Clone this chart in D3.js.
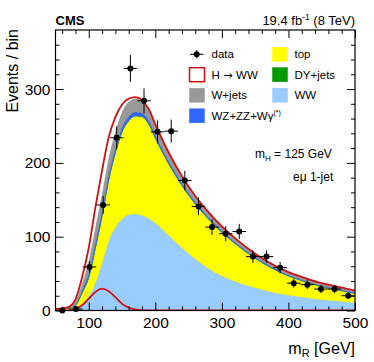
<!DOCTYPE html>
<head>
    <meta charset="utf-8">
    <title>mR e-mu 1-jet</title>
    <script src="https://cdnjs.cloudflare.com/ajax/libs/d3/7.8.5/d3.min.js"></script>
    <style>
        body { margin: 0; background: #fff; }
        svg text { font-family: "Liberation Sans", Arial, Helvetica, sans-serif; fill: #000; }
    </style>
</head>
<body>
    <div id="chart"></div>
    <script type="text/javascript">
        const width = 374;
        const height = 362;
        const marginLeft = 55.5;
        const marginTop = 30;
        const marginRight = 19;
        const marginBottom = 51.5;

        // observed data, 22 bins between 50 and 500 GeV
        const binCenters = [60.2, 80.7, 101.1, 121.6, 142.0, 162.5, 183.0, 203.4, 223.9, 244.3, 264.8,
                            285.2, 305.7, 326.1, 346.6, 367.0, 387.5, 408.0, 428.4, 448.9, 469.3, 489.8];
        const dataCounts = [0, 2, 59, 143, 234, 328, 284, 242, 243, 176, 141,
                            113, 104, 107, 73, 73, 58, 37, 35, 29, 29, 20];
        const dataErrors = [0, 1.4, 7.7, 12, 15.3, 18.1, 16.9, 15.6, 15.6, 13.3, 11.9,
                            10.6, 10.2, 10.3, 8.5, 8.5, 7.6, 6.1, 5.9, 5.4, 5.4, 4.5];
        const binHalfWidth = 10.2;

        // expected yields
        const massGrid   = [50, 60, 70, 80, 90, 100, 110, 120, 130, 140, 150, 160, 170, 180, 190, 200,
                            220, 240, 260, 280, 300, 325, 350, 375, 400, 425, 450, 475, 500];
        const wwYield    = [0.2, 0.5, 1, 3, 9, 20, 38, 65, 95, 113, 124, 130, 131, 129, 125, 119,
                            102, 85, 70, 57, 47, 38, 31, 25, 21, 18, 15, 13, 11];
        const topYield   = [1.5, 2, 2.2, 4, 15, 25, 47, 63.5, 82, 101, 118, 127, 132.5, 133.5, 127.8, 114.7,
                            96.9, 84.4, 74.4, 66.9, 58.9, 49, 39.8, 32.4, 25.8, 21.1, 17.4, 14.7, 12];
        const dyYield    = [0, 0, 0.1, 0.2, 0.3, 0.5, 0.5, 0.5, 0.5, 0.5, 0.5, 0.5, 0.5, 0.4, 0.4, 0.4,
                            0.3, 0.3, 0.2, 0.2, 0.2, 0.1, 0.1, 0.1, 0.1, 0.1, 0.1, 0.1, 0.1];
        const vvYield    = [0.1, 0.1, 0.3, 1.3, 3.2, 5.5, 6.5, 7, 7, 6.5, 6, 5.5, 5, 4.6, 4.2, 3.8,
                            3.3, 2.8, 2.4, 2.1, 1.9, 1.7, 1.5, 1.4, 1.3, 1.2, 1.1, 1.0, 0.9];
        const wjetsYield = [0.2, 0.4, 1.1, 4.5, 10.5, 18, 23, 24.5, 24.5, 23, 21.5, 20, 18.5, 17, 15.5, 14,
                            11.5, 9.5, 8, 6.8, 6, 5.2, 4.6, 4.1, 3.8, 3.6, 3.4, 3.2, 3];
        const higgsYield = [0, 0, 0.3, 2, 7, 16, 25, 29.5, 26, 18, 9, 4, 1.5, 0.5, 0.2, 0.1,
                            0, 0, 0, 0, 0, 0, 0, 0, 0, 0, 0, 0, 0];

        const xTicks = [100, 200, 300, 400, 500];
        const yTicks = [0, 100, 200, 300];

        const svg = d3.select("#chart")
            .append("svg")
            .attr("width", width)
            .attr("height", height);

        const xScale = d3.scaleLinear()
            .domain([50, 500])
            .range([marginLeft, width - marginRight]);
        const yScale = d3.scaleLinear()
            .domain([0, 380])
            .range([height - marginBottom, marginTop]);

        svg.append("clipPath").attr("id", "plotclip")
            .append("rect")
            .attr("x", marginLeft).attr("y", marginTop)
            .attr("width", width - marginLeft - marginRight)
            .attr("height", height - marginTop - marginBottom);

        // stacked expectation
        const keys = ["ww", "top", "dy", "vv", "wjets", "higgs"];
        const fills = {ww: "#99ccff", top: "#ffff00", dy: "#009900", vv: "#3366ff", wjets: "#999999", higgs: "#ffffff"};
        const edges = {ww: "#99ccff", top: "#eeee00", dy: "#009900", vv: "#3366ff", wjets: "#888888", higgs: "#ffffff"};
        const rows = massGrid.map((m, i) => ({
            m: m, ww: wwYield[i], top: topYield[i], dy: dyYield[i],
            vv: vvYield[i], wjets: wjetsYield[i], higgs: higgsYield[i]
        }));
        const stacked = d3.stack().keys(keys)(rows);

        const area = d3.area()
            .x(d => xScale(d.data.m))
            .y0(d => yScale(d[0]))
            .y1(d => yScale(d[1]))
            .curve(d3.curveMonotoneX);

        const plot = svg.append("g").attr("clip-path", "url(#plotclip)");
        plot.selectAll("path.layer")
            .data(stacked)
            .enter()
            .append("path")
            .attr("class", "layer")
            .attr("d", area)
            .attr("fill", d => fills[d.key])
            .attr("stroke", d => edges[d.key])
            .attr("stroke-width", 0.6);

        // red outline on top of the stack (signal + background)
        const topLine = d3.line()
            .x(d => xScale(d.data.m))
            .y(d => yScale(d[1]))
            .curve(d3.curveMonotoneX);
        plot.append("path")
            .attr("d", topLine(stacked[stacked.length - 1]))
            .attr("fill", "none")
            .attr("stroke", "#d01010")
            .attr("stroke-width", 1.8);

        // signal alone
        const sigLine = d3.line()
            .x((d, i) => xScale(massGrid[i]))
            .y(d => yScale(d))
            .curve(d3.curveMonotoneX);
        plot.append("path")
            .attr("d", sigLine(higgsYield))
            .attr("fill", "none")
            .attr("stroke", "#d01010")
            .attr("stroke-width", 1.8);

        // data points
        const pts = binCenters.map((m, i) => ({m: m, n: dataCounts[i], e: dataErrors[i]}));
        const dataG = svg.append("g").attr("class", "data");
        dataG.selectAll("line.ex")
            .data(pts.filter(d => d.n > 0))
            .enter().append("line")
            .attr("x1", d => xScale(d.m - binHalfWidth))
            .attr("x2", d => xScale(d.m + binHalfWidth))
            .attr("y1", d => yScale(d.n))
            .attr("y2", d => yScale(d.n))
            .attr("stroke", "#000").attr("stroke-width", 1);
        dataG.selectAll("line.ey")
            .data(pts.filter(d => d.n > 0))
            .enter().append("line")
            .attr("x1", d => xScale(d.m))
            .attr("x2", d => xScale(d.m))
            .attr("y1", d => yScale(d.n - d.e))
            .attr("y2", d => yScale(d.n + d.e))
            .attr("stroke", "#000").attr("stroke-width", 1);
        dataG.selectAll("circle")
            .data(pts)
            .enter().append("circle")
            .attr("cx", d => xScale(d.m))
            .attr("cy", d => yScale(d.n))
            .attr("r", 3)
            .attr("fill", "#000");

        // axes, ticks pointing inwards on all four sides
        const xMinor = d3.range(60, 500, 20).filter(v => v % 100 !== 0);
        const yMinor = d3.range(20, 380, 20).filter(v => v % 100 !== 0);
        const bottom = height - marginBottom;
        const right = width - marginRight;

        function styleAxis(g) {
            g.select(".domain").remove();
            g.selectAll("line").attr("stroke", "#000");
            g.selectAll("text").attr("font-size", 15.5).attr("fill", "#000")
                .attr("font-family", "Liberation Sans, Arial, sans-serif");
        }

        svg.append("g").attr("transform", "translate(0," + bottom + ")")
            .call(d3.axisBottom(xScale).tickValues(xTicks).tickSizeInner(-8).tickSizeOuter(0).tickPadding(6))
            .call(styleAxis);
        svg.append("g").attr("transform", "translate(0," + bottom + ")")
            .call(d3.axisBottom(xScale).tickValues(xMinor).tickSize(-4).tickFormat(""))
            .call(styleAxis);
        svg.append("g").attr("transform", "translate(0," + marginTop + ")")
            .call(d3.axisTop(xScale).tickValues(xTicks).tickSize(-8).tickFormat(""))
            .call(styleAxis);
        svg.append("g").attr("transform", "translate(0," + marginTop + ")")
            .call(d3.axisTop(xScale).tickValues(xMinor).tickSize(-4).tickFormat(""))
            .call(styleAxis);

        svg.append("g").attr("transform", "translate(" + marginLeft + ",0)")
            .call(d3.axisLeft(yScale).tickValues(yTicks).tickSizeInner(-8).tickSizeOuter(0).tickPadding(5))
            .call(styleAxis);
        svg.append("g").attr("transform", "translate(" + marginLeft + ",0)")
            .call(d3.axisLeft(yScale).tickValues(yMinor).tickSize(-4).tickFormat(""))
            .call(styleAxis);
        svg.append("g").attr("transform", "translate(" + right + ",0)")
            .call(d3.axisRight(yScale).tickValues(yTicks).tickSize(-8).tickFormat(""))
            .call(styleAxis);
        svg.append("g").attr("transform", "translate(" + right + ",0)")
            .call(d3.axisRight(yScale).tickValues(yMinor).tickSize(-4).tickFormat(""))
            .call(styleAxis);

        svg.append("rect")
            .attr("x", marginLeft).attr("y", marginTop)
            .attr("width", right - marginLeft)
            .attr("height", bottom - marginTop)
            .attr("fill", "none")
            .attr("stroke", "#000")
            .attr("stroke-width", 1.2);

        // axis titles
        const xTitle = svg.append("text")
            .attr("x", right).attr("y", 353.5)
            .attr("text-anchor", "end")
            .attr("font-size", 16);
        xTitle.append("tspan").text("m");
        xTitle.append("tspan").attr("dy", 3.5).attr("font-size", 11).text("R");
        xTitle.append("tspan").attr("dy", -3.5).text(" [GeV]");

        svg.append("text")
            .attr("transform", "rotate(-90)")
            .attr("x", -29).attr("y", 17.5)
            .attr("text-anchor", "end")
            .attr("font-size", 16)
            .text("Events / bin");

        // header
        svg.append("text")
            .attr("x", marginLeft).attr("y", 25)
            .attr("font-size", 13).attr("font-weight", "bold")
            .text("CMS");
        const lumi = svg.append("text")
            .attr("x", right).attr("y", 25)
            .attr("text-anchor", "end")
            .attr("font-size", 13);
        lumi.append("tspan").text("19.4 fb");
        lumi.append("tspan").attr("dy", -5).attr("font-size", 8.5).text("-1");
        lumi.append("tspan").attr("dy", 5).text(" (8 TeV)");

        // legend
        const legendItems = [
            {label: "top", key: "top", col: 1, row: 0},
            {label: "H", key: "higgs", col: 0, row: 1},
            {label: "DY+jets", key: "dy", col: 1, row: 1},
            {label: "W+jets", key: "wjets", col: 0, row: 2},
            {label: "WW", key: "ww", col: 1, row: 2},
            {label: "WZ+ZZ+W\u03b3", key: "vv", col: 0, row: 3}
        ];
        const legX = [189.5, 272.5];
        const legY = [54.3, 74.7, 95.2, 115.8];
        const leg = svg.append("g").attr("class", "legend");

        leg.append("line").attr("x1", 190).attr("x2", 203.5).attr("y1", legY[0]).attr("y2", legY[0]).attr("stroke", "#000");
        leg.append("line").attr("x1", 196.7).attr("x2", 196.7).attr("y1", legY[0] - 4).attr("y2", legY[0] + 4).attr("stroke", "#000");
        leg.append("circle").attr("cx", 196.7).attr("cy", legY[0]).attr("r", 3).attr("fill", "#000");
        leg.append("text").attr("x", 211.5).attr("y", legY[0] + 4).attr("font-size", 11.5).text("data");

        legendItems.forEach(function(it) {
            const x0 = legX[it.col];
            const y0 = legY[it.row];
            leg.append("rect")
                .attr("x", x0).attr("y", y0 - 7)
                .attr("width", 15).attr("height", 14)
                .attr("fill", fills[it.key])
                .attr("stroke", it.key === "higgs" ? "#d01010" : fills[it.key])
                .attr("stroke-width", it.key === "higgs" ? 1.5 : 0.5);
            const t = leg.append("text")
                .attr("x", x0 + 22).attr("y", y0 + 4)
                .attr("font-size", 11.5)
                .text(it.label);
            if (it.key === "vv") {
                t.append("tspan").attr("dy", -5).attr("font-size", 7).text("(*)");
            }
            if (it.key === "higgs") {
                t.append("tspan").attr("font-family", "DejaVu Sans").attr("font-size", 11).text(" \u2192 ");
                t.append("tspan").text("WW");
            }
        });

        // channel info
        const mh = svg.append("text")
            .attr("x", 255).attr("y", 157.5)
            .attr("font-size", 12);
        mh.append("tspan").text("m");
        mh.append("tspan").attr("dy", 3).attr("font-size", 8).text("H");
        mh.append("tspan").attr("dy", -3).text(" = 125 GeV");
        svg.append("text")
            .attr("x", 293).attr("y", 181)
            .attr("font-size", 12)
            .text("e\u03bc 1-jet");
    </script>
</body>
